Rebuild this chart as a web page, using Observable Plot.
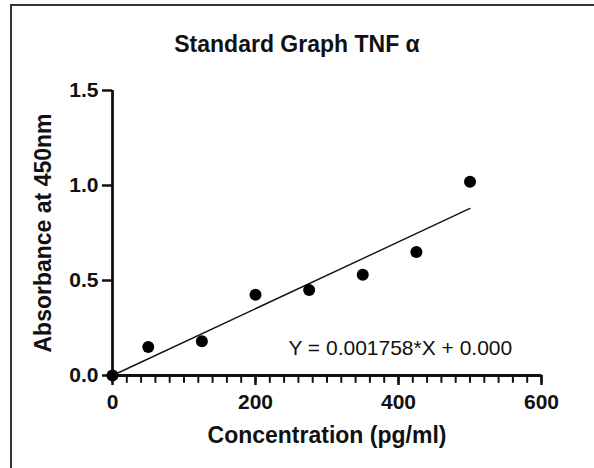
<!DOCTYPE html>
<html>
<head>
<meta charset="utf-8">
<script src="https://cdn.jsdelivr.net/npm/d3@7"></script>
<script src="https://cdn.jsdelivr.net/npm/@observablehq/plot@0.6"></script>
<style>
  html, body { margin: 0; padding: 0; background: #fff; }
  #wrap { position: relative; width: 594px; height: 468px; overflow: hidden; font-family: "Liberation Sans", Arial, sans-serif; }
  #frameTop { position: absolute; left: 10px; top: 4px; width: 584px; height: 2px; background: #333; }
  #frameLeft { position: absolute; left: 10px; top: 4px; width: 2px; height: 464px; background: #333; }
  #title { position: absolute; left: 0; top: 0; width: 594px; height: 70px; }
  #title span { position: absolute; left: 0; width: 594px; text-align: center; top: 30px; font-size: 23px; font-weight: bold; color: #111; line-height: 28px; }
  #chart { position: absolute; left: 0; top: 70px; }
</style>
</head>
<body>
<div id="wrap">
  <div id="frameTop"></div>
  <div id="frameLeft"></div>
  <div id="title"><span>Standard Graph TNF α</span></div>
  <div id="chart"></div>
</div>
<script>
// Data
const concentration = [0, 50, 125, 200, 275, 350, 425, 500];
const absorbance = [0, 0.15, 0.18, 0.425, 0.45, 0.53, 0.65, 1.02];
// Linear fit shown on the chart: Y = 0.001758*X + 0.000
const fitX = [0, 500];
const fitY = [0, 0.879];
const xTicks = [0, 200, 400, 600];
const xMinorTicks = d3.range(0, 601, 20);
const yTicks = [0, 0.5, 1.0, 1.5];
const equation = "Y = 0.001758*X + 0.000";

const points = concentration.map((c, i) => ({x: c, y: absorbance[i]}));
const fit = fitX.map((x, i) => ({x, y: fitY[i]}));

// a plain downward tick shape for minor ticks
const tickShape = {draw(context, l) { context.moveTo(0, 0); context.lineTo(0, -l); }};

const plot = Plot.plot({
  width: 594,
  height: 398,
  marginLeft: 112,
  marginRight: 53,
  marginTop: 20,
  marginBottom: 93,
  style: {fontFamily: "'Liberation Sans', Arial, sans-serif", color: "#111", background: "transparent"},
  x: {domain: [0, 600]},
  y: {domain: [0, 1.5]},
  marks: [
    // minor ticks below the x axis
    Plot.vector(xMinorTicks, {x: d => d, y: 0, length: 6.5, rotate: 180, anchor: "start", shape: tickShape, stroke: "#111", strokeWidth: 2}),
    Plot.axisX({ticks: xTicks, tickSize: 10, tickPadding: 9, strokeWidth: 2.5, fontSize: 21, fontWeight: "bold", tickFormat: d3.format("d"),
      label: null}),
    Plot.axisX({ticks: [], label: "Concentration (pg/ml)", labelAnchor: "center", labelArrow: "none", labelOffset: 67, fontSize: 23, fontWeight: "bold"}),
    Plot.axisY({ticks: yTicks, tickSize: 10, tickPadding: 4, strokeWidth: 2.5, fontSize: 21, fontWeight: "bold", tickFormat: d3.format(".1f"),
      label: null}),
    Plot.axisY({ticks: [], label: "Absorbance at 450nm", labelAnchor: "center", labelArrow: "none", labelOffset: 78, fontSize: 23, fontWeight: "bold"}),
    Plot.ruleY([0], {x1: 0, x2: 600, stroke: "#111", strokeWidth: 2.8}),
    Plot.ruleX([0], {y1: 0, y2: 1.5, stroke: "#111", strokeWidth: 2.8}),
    Plot.line(fit, {x: "x", y: "y", stroke: "#111", strokeWidth: 1.4}),
    Plot.dot(points, {x: "x", y: "y", r: 6, fill: "#000", stroke: "none"}),
    Plot.text([equation], {x: 246, y: 0.143, text: d => d, textAnchor: "start", fontSize: 21, fill: "#111"})
  ]
});
document.getElementById("chart").appendChild(plot);
</script>
</body>
</html>
